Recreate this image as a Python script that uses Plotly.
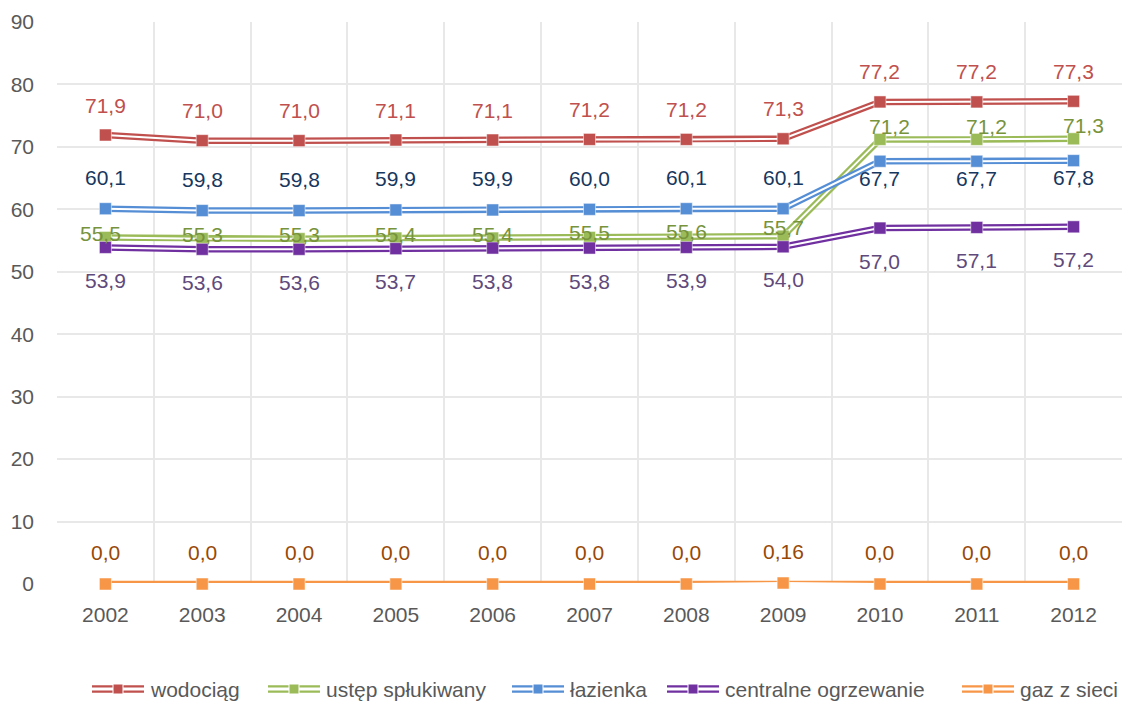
import plotly.graph_objects as go

# ---------------- data ----------------
years = [2002, 2003, 2004, 2005, 2006, 2007, 2008, 2009, 2010, 2011, 2012]
wodociag = [71.9, 71.0, 71.0, 71.1, 71.1, 71.2, 71.2, 71.3, 77.2, 77.2, 77.3]
ustep = [55.5, 55.3, 55.3, 55.4, 55.4, 55.5, 55.6, 55.7, 71.2, 71.2, 71.3]
lazienka = [60.1, 59.8, 59.8, 59.9, 59.9, 60.0, 60.1, 60.1, 67.7, 67.7, 67.8]
centralne = [53.9, 53.6, 53.6, 53.7, 53.8, 53.8, 53.9, 54.0, 57.0, 57.1, 57.2]
gaz = [0.0, 0.0, 0.0, 0.0, 0.0, 0.0, 0.0, 0.16, 0.0, 0.0, 0.0]
gaz_labels = ["0,0", "0,0", "0,0", "0,0", "0,0", "0,0", "0,0", "0,16", "0,0", "0,0", "0,0"]
series_names = ["wodociąg", "ustęp spłukiwany", "łazienka", "centralne ogrzewanie", "gaz z sieci"]


def fmt(vals):
    return [f"{v:.1f}".replace(".", ",") for v in vals]


values = [wodociag, ustep, lazienka, centralne, gaz]
labels = [fmt(wodociag), fmt(ustep), fmt(lazienka), fmt(centralne), gaz_labels]

# ---------------- styles ----------------
FONT = "Liberation Sans, Arial, sans-serif"
FS = 21
line_colors = ["#C0504D", "#9BBB59", "#558ED5", "#7030A0", "#F79646"]
label_colors = ["#C0504D", "#77933C", "#17375E", "#604A7B", "#984807"]
yshifts = [
    [30] * 11,
    [4, 4, 4, 4, 4, 5, 5, 9, 13, 13, 13],
    [31] * 8 + [-17] * 3,
    [-33] * 11,
    [32] * 11,
]
xshifts = [
    [0] * 11,
    [-5, 0, 0, 0, 0, 0, 0, 0, 10, 10, 10],
    [0] * 11,
    [0] * 11,
    [0] * 11,
]

fig = go.Figure()
annotations = []
shapes = []

for i, name in enumerate(series_names):
    c = line_colors[i]
    fig.add_trace(go.Scatter(x=years, y=values[i], mode="lines",
                             line=dict(color=c, width=6.5), showlegend=False,
                             hoverinfo="skip", cliponaxis=False))
    fig.add_trace(go.Scatter(x=years, y=values[i], mode="lines",
                             line=dict(color="white", width=2), showlegend=False,
                             hoverinfo="skip", cliponaxis=False))
    fig.add_trace(go.Scatter(x=years, y=values[i], mode="markers", name=name,
                             marker=dict(symbol="square", size=12, color=c,
                                         line=dict(color="rgba(255,255,255,0.5)", width=1)),
                             showlegend=False, cliponaxis=False))
    for j, yr in enumerate(years):
        annotations.append(dict(x=yr, y=values[i][j], text=labels[i][j], showarrow=False,
                                xref="x", yref="y", yshift=yshifts[i][j], xshift=xshifts[i][j],
                                font=dict(family=FONT, size=FS, color=label_colors[i])))

# ---------------- custom legend (double line + square) ----------------
L, R, T, B = 57, 1122, 22, 584
W, H = R - L, B - T


def px(x):
    return (x - L) / W


def py(y):
    return (B - y) / H


legend_x = [92, 268, 512, 667, 962]
legend_y = 689
for i, name in enumerate(series_names):
    x0 = legend_x[i]
    c = line_colors[i]
    for dy in (-2.6, 2.6):
        shapes.append(dict(type="line", xref="paper", yref="paper",
                           x0=px(x0), x1=px(x0 + 52), y0=py(legend_y + dy), y1=py(legend_y + dy),
                           line=dict(color=c, width=2.4)))
    shapes.append(dict(type="rect", xref="paper", yref="paper",
                       x0=px(x0 + 21), x1=px(x0 + 31), y0=py(legend_y + 5), y1=py(legend_y - 5),
                       fillcolor=c, line=dict(color="white", width=1)))
    annotations.append(dict(x=px(x0 + 56), y=py(legend_y), xref="paper", yref="paper",
                            text=name, showarrow=False, xanchor="left", yanchor="middle",
                            font=dict(family=FONT, size=FS, color="#595959")))

fig.update_layout(
    width=1133, height=707,
    margin=dict(l=L, r=1133 - R, t=T, b=707 - B, autoexpand=False),
    paper_bgcolor="white", plot_bgcolor="white",
    font=dict(family=FONT, size=FS, color="#595959"),
    showlegend=False,
    annotations=annotations,
    shapes=shapes,
    xaxis=dict(range=[2001.5, 2012.5], tickmode="array", tickvals=years,
               ticktext=[str(y) for y in years], showgrid=False, zeroline=False,
               showline=False, ticks="", ticklabelstandoff=16, automargin=False,
               tickfont=dict(family=FONT, size=FS, color="#595959"),
               minor=dict(tickmode="linear", tick0=2001.5, dtick=1, showgrid=True,
                          gridcolor="#E8E8E8", gridwidth=1.5, ticks="")),
    yaxis=dict(range=[0, 90], dtick=10, showgrid=True, gridcolor="#E8E8E8", gridwidth=1.5,
               zeroline=False, showline=False, ticks="", ticklabelstandoff=22, automargin=False,
               tickfont=dict(family=FONT, size=FS, color="#595959")),
)

fig.write_html("out.html", config={"displayModeBar": False},
               post_script="document.body.style.margin='0px';document.body.style.overflow='hidden';")
